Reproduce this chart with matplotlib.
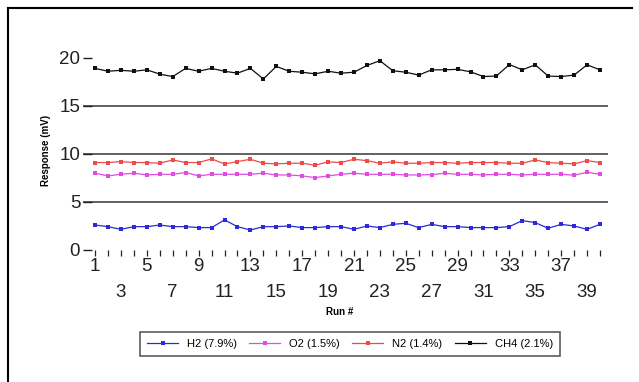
import matplotlib
matplotlib.use("Agg")
import matplotlib.pyplot as plt
from matplotlib.lines import Line2D
from matplotlib.ticker import FixedLocator, FuncFormatter

plt.rcParams['font.family'] = ['Liberation Sans', 'DejaVu Sans']

runs = list(range(1, 41))
h2 = [2.60, 2.43, 2.15, 2.43, 2.43, 2.60, 2.43, 2.43, 2.33, 2.33,
      3.13, 2.43, 2.08, 2.43, 2.43, 2.50, 2.33, 2.33, 2.43, 2.43,
      2.15, 2.50, 2.33, 2.67, 2.78, 2.33, 2.67, 2.43, 2.43, 2.33,
      2.33, 2.33, 2.43, 3.06, 2.85, 2.26, 2.67, 2.50, 2.15, 2.67]
o2 = [7.99, 7.71, 7.88, 7.99, 7.81, 7.88, 7.88, 8.06, 7.71, 7.88,
      7.88, 7.88, 7.88, 7.99, 7.81, 7.81, 7.71, 7.53, 7.71, 7.88,
      7.99, 7.88, 7.88, 7.88, 7.81, 7.81, 7.84, 7.99, 7.88, 7.88,
      7.81, 7.88, 7.88, 7.81, 7.88, 7.88, 7.88, 7.78, 8.09, 7.88]
n2 = [9.10, 9.10, 9.20, 9.10, 9.10, 9.03, 9.37, 9.10, 9.10, 9.48,
      8.96, 9.20, 9.44, 9.03, 8.96, 9.03, 9.03, 8.82, 9.17, 9.10,
      9.44, 9.30, 9.03, 9.17, 9.03, 9.03, 9.10, 9.10, 9.03, 9.10,
      9.10, 9.10, 9.03, 9.03, 9.37, 9.10, 9.03, 8.96, 9.30, 9.10]
ch4 = [18.9, 18.6, 18.7, 18.6, 18.75, 18.3, 18.05, 18.9, 18.6, 18.9,
       18.6, 18.4, 18.9, 17.8, 19.1, 18.6, 18.5, 18.33, 18.6, 18.4,
       18.5, 19.2, 19.7, 18.65, 18.5, 18.2, 18.75, 18.75, 18.8, 18.54,
       18.05, 18.1, 19.3, 18.75, 19.27, 18.1, 18.05, 18.2, 19.27, 18.75]

series = [
    ("H2 (7.9%)", h2, "#2b2bd9"),
    ("O2 (1.5%)", o2, "#e04ce0"),
    ("N2 (1.4%)", n2, "#ee4a4a"),
    ("CH4 (2.1%)", ch4, "#111111"),
]
y_ticks = [0, 5, 10, 15, 20]

W, H = 639, 382
fig = plt.figure(figsize=(W / 100, H / 100), dpi=100)
ax = fig.add_axes([83 / W, (H - 250) / H, (608 - 83) / W, (250 - 53) / H])

for label, vals, color in series:
    ax.plot(runs, vals, color=color, lw=0.9, marker='s', ms=2.2,
            markeredgewidth=0, label=label)

for g in [5, 10, 15]:
    ax.axhline(g, color='#555555', lw=1.3, zorder=0)

ax.set_xlim(0.07, 40.62)
ax.set_ylim(0, 20.5)
for s in ax.spines.values():
    s.set_visible(False)

ax.set_yticks(y_ticks)
ax.tick_params(axis='y', direction='in', length=6.5, width=1.0, pad=2,
               labelsize=13.5, colors='#222222')

ax.xaxis.set_major_locator(FixedLocator([r for r in runs if r % 4 == 1]))
ax.xaxis.set_minor_locator(FixedLocator([r for r in runs if r % 4 != 1]))
ax.xaxis.set_major_formatter(FuncFormatter(lambda v, p: str(int(round(v)))))
ax.xaxis.set_minor_formatter(
    FuncFormatter(lambda v, p: str(int(round(v))) if int(round(v)) % 4 == 3 else ""))
ax.tick_params(axis='x', which='both', direction='out', length=4.5, width=0.9,
               labelsize=13.5, colors='#222222')
ax.tick_params(axis='x', which='major', pad=1.5)
ax.tick_params(axis='x', which='minor', pad=20)

fig.text(340 / W, 1 - 312 / H, "Run #", fontsize=7, fontweight='bold',
         ha='center', va='center')
fig.text(46 / W, 1 - 150 / H, "Response (mV)", rotation=90, fontsize=7,
         fontweight='bold', ha='center', va='center')

leg = fig.legend(loc='center', bbox_to_anchor=(350 / W, 1 - 344 / H), ncol=4,
                 fontsize=8, frameon=True, fancybox=False, handlelength=2.8,
                 columnspacing=1.1, handletextpad=0.8, borderpad=0.6)
leg.get_frame().set_edgecolor('#333333')
leg.get_frame().set_linewidth(1.2)

fig.add_artist(Line2D([8 / W, 8 / W], [0, 1 - 8 / H], transform=fig.transFigure,
                      color='black', lw=1.5))
fig.add_artist(Line2D([8 / W, 632 / W], [1 - 8 / H, 1 - 8 / H], transform=fig.transFigure,
                      color='black', lw=1.5))

fig.savefig("out.png", dpi=100)
